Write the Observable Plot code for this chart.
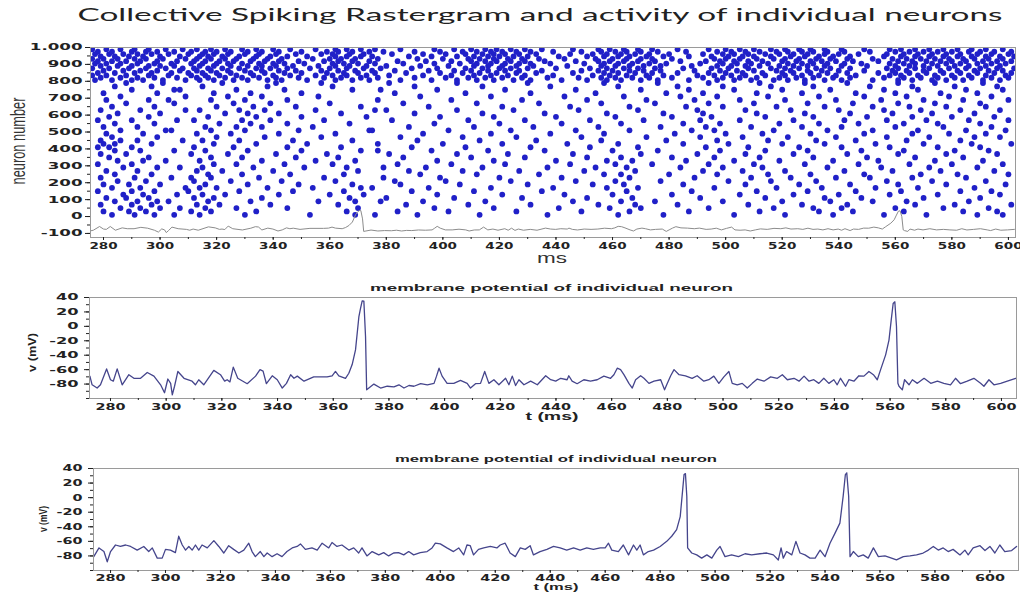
<!DOCTYPE html>
<html><head><meta charset="utf-8">
<script src="https://cdn.jsdelivr.net/npm/d3@7"></script>
<script src="https://cdn.jsdelivr.net/npm/@observablehq/plot@0.6"></script>
<style>
body{margin:0;background:#fff;}
#wrap{position:relative;width:1020px;height:592px;overflow:hidden;background:#fff;}
#wrap > svg{position:absolute;left:0;}
</style></head><body><div id="wrap"></div>
<script>
// ---------- DATA ----------
const titleText = "Collective Spiking Rastergram and activity  of individual neurons";
const panelTitle = "membrane potential of individual neuron";
const rasterYTicks = [-100,0,100,200,300,400,500,600,700,800,900,1000];
const rasterYLabels = ["-100","0","100","200","300","400","500","600","700","800","900","1.000"];
const timeTicks = [280,300,320,340,360,380,400,420,440,460,480,500,520,540,560,580,600];
const vTicks = [-80,-60,-40,-20,0,20,40];

// excitatory neurons (sparse), one row of spike times per neuron group
const excitRows = [10,30,50,70,90,110,130,150,170,190,210,230,250,270,290,310,330,350,370,390,410,430,450,470,490,510,530,550,570,590,610,630,650,670,690,710,730,750,770,790];
const excitTimes = [
[283,291,298,314,330,353,369,391,413,437,462,478,503,521,538,556,571,589,598,305,376],
[280,289,295,311,318,334,366,384,402,426,449,466,487,512,533,545,563,584,596],
[286,293,300,316,327,345,370,397,418,441,459,470,494,517,531,541,560,577,593,307],
[279,290,297,313,321,339,363,387,409,431,455,468,483,508,527,543,567,581,601],
[284,292,299,317,332,356,369,393,415,446,463,475,499,520,537,552,564,586,303,378],
[281,288,296,312,319,336,367,380,404,428,451,467,491,514,535,548,570,590],
[287,294,315,323,342,360,372,398,421,443,460,481,505,524,540,558,575,597,306],
[278,290,298,310,328,347,365,389,411,435,465,488,511,529,546,562,583,594],
[283,293,314,320,338,354,371,395,417,439,458,469,496,518,534,553,568,588,309,375],
[280,289,300,316,331,349,368,385,406,430,453,464,485,507,526,544,561,578,599],
[285,295,312,325,343,362,383,401,424,447,461,477,501,516,532,557,573,592],
[279,291,311,318,335,358,379,399,420,442,466,489,509,523,539,551,566,585,304],
[284,297,317,329,346,365,392,412,434,457,463,480,497,515,530,549,569,582,600],
[281,292,313,322,340,370,388,407,427,450,468,492,506,521,542,559,576,595],
[287,299,315,333,351,366,394,414,437,454,465,484,499,513,536,555,572,589,307,379],
[278,290,319,327,344,361,384,403,422,445,461,474,494,510,528,547,565,580,598],
[285,294,314,336,355,369,398,418,440,458,467,486,503,519,538,554,574,591,302],
[282,296,318,329,348,363,386,410,429,451,463,481,496,512,531,550,567,584],
[279,288,311,324,341,359,381,405,423,446,470,490,507,524,543,561,578,596],
[284,293,316,331,350,371,396,416,436,460,476,498,514,529,548,563,581,593,305,377],
[278,282,290,312,326,345,364,389,408,431,452,469,493,508,526,541,558,575,590],
[280,284,297,319,334,352,377,400,421,444,462,485,501,520,535,553,570,587,601],
[279,286,292,315,328,347,368,391,413,433,456,479,497,515,532,546,564,583,308],
[283,299,320,337,357,385,407,426,449,472,491,506,522,539,557,572,588,597],
[281,294,313,325,342,362,393,417,438,457,482,500,513,530,549,566,579,592],
[286,302,318,330,349,375,402,424,447,466,488,496,517,536,552,568,585,599,304,374],
[280,292,316,327,336,354,388,411,432,455,477,493,509,527,541,560,577,594],
[284,298,321,332,345,367,397,420,442,463,485,498,519,533,547,563,575,590],
[278,290,312,329,339,358,382,409,429,452,471,491,505,524,542,557,571,586,600,306],
[282,296,317,334,350,373,399,418,440,461,481,495,514,531,550,566,580,595],
[285,300,323,331,342,364,390,414,436,458,478,492,511,528,544,559,573,588],
[279,293,314,328,337,355,380,405,425,448,469,490,507,523,540,556,569,583,597,309,376],
[283,298,320,333,348,371,395,421,445,466,486,499,518,535,552,565,578,592],
[288,305,326,339,360,386,412,434,456,475,494,510,529,545,561,574,590],
[281,296,318,330,345,377,403,428,451,472,489,505,521,539,555,570,584,600,303],
[286,309,324,336,356,392,417,443,464,484,497,515,533,549,564,579,594],
[280,299,319,332,350,383,408,431,454,479,492,511,527,546,560,576,589],
[290,305,327,344,368,398,422,447,470,487,503,520,537,556,568,585,598,307,378],
[284,297,315,338,361,390,414,438,462,483,499,516,531,551,566,581,596],
[288,301,322,341,357,381,405,430,457,476,494,512,528,543,561,574,591]
];

// inhibitory neurons (dense band 800-1000)
const inhibRows = [807,821,835,849,863,877,891,905,919,933,947,961,975,989];
const inhibTimes = [
[277,283,290,294,301,309,314,319,326,331,338,343,352,362,368,374,385,396,405,412,418,425,431,442,451,458,463,470,476,487,497,503,509,517,522,528,535,541,552,561,566,573,578,584,591,597],
[279,286,292,298,306,313,317,323,329,335,341,349,358,364,371,377,390,401,409,415,421,428,437,448,456,461,467,473,481,492,499,505,511,519,525,531,538,544,556,563,569,575,581,587,594,600],
[276,281,288,296,303,311,316,321,327,333,340,346,355,361,366,373,381,393,403,411,417,423,429,439,453,459,465,472,478,490,496,502,507,514,521,527,533,539,546,558,562,568,574,580,586,592,599],
[278,284,291,297,304,310,315,320,325,332,337,344,350,359,365,370,376,387,399,407,413,419,426,433,446,457,462,468,474,483,494,500,506,513,520,524,530,536,543,554,560,565,571,577,583,589,595,601],
[280,287,293,299,307,313,318,324,330,336,342,348,357,363,369,375,383,395,404,410,416,422,427,435,449,455,460,466,471,477,489,498,504,510,518,523,529,534,540,549,559,564,570,576,582,588,593,598],
[276,282,289,295,302,308,312,317,322,328,334,339,345,353,360,366,372,378,389,398,408,414,420,424,430,440,452,458,464,469,475,485,495,501,508,516,521,526,532,537,544,557,561,567,572,579,585,590,596,602],
[279,285,290,296,300,305,314,319,325,331,336,341,347,356,362,367,373,380,392,402,411,416,421,426,432,444,456,461,466,471,477,488,497,502,507,512,519,524,529,535,541,550,560,565,570,575,581,586,592,597],
[277,281,286,292,298,304,311,315,320,324,329,335,340,344,351,361,365,370,376,386,397,406,412,417,422,427,431,438,450,457,462,467,473,479,491,499,504,509,515,522,527,531,536,542,548,558,563,567,573,578,583,589,594,599],
[278,283,288,293,299,306,312,316,321,326,332,337,342,349,358,363,368,374,384,394,403,410,415,419,424,429,436,447,455,459,464,469,475,484,493,498,503,508,513,520,525,530,534,539,545,554,561,566,571,576,580,585,591,596,601],
[276,280,285,291,295,301,309,313,318,323,327,333,338,343,354,360,364,369,377,391,400,409,413,418,423,428,434,443,454,460,465,470,474,481,496,500,505,511,517,521,526,532,537,543,552,559,564,569,574,579,584,588,593,598],
[279,284,289,294,300,307,314,317,322,328,334,339,345,352,362,366,371,375,388,396,405,411,416,420,425,430,441,451,457,462,466,472,478,487,495,501,506,510,516,523,528,533,538,544,556,562,567,572,577,582,587,592,597,602],
[277,282,287,292,297,303,310,315,319,324,330,335,341,348,357,361,367,372,382,393,401,408,414,418,422,427,433,445,453,458,463,468,473,480,492,499,503,508,514,519,524,529,535,540,547,557,563,568,573,578,583,589,594,600],
[278,283,290,295,299,305,311,316,320,325,331,336,342,350,359,363,368,374,379,390,399,407,412,417,421,426,431,439,449,456,461,465,470,476,486,497,502,507,512,518,522,527,531,536,542,551,560,565,570,575,580,586,590,595,601],
[276,281,286,291,296,302,308,313,318,323,329,334,340,346,355,362,366,371,376,385,397,404,410,415,419,424,429,435,446,455,459,464,469,474,483,494,500,505,510,516,521,526,530,535,541,549,558,562,567,572,577,582,587,592,598]
];

// membrane potential, neuron A (middle panel, also grey trace in raster)
const vmAT = [272.6,273.4,275.2,276.4,278.6,280.0,281.0,282.4,284.2,286.6,288.4,290.8,293.2,295.6,298.0,299.4,300.6,301.6,302.2,303.0,304.2,306.4,309.3,310.5,311.7,313.5,317.1,319.5,321.0,321.9,322.9,324.1,325.7,329.1,332.1,333.7,334.8,336.0,338.1,339.9,341.7,343.2,344.7,345.9,347.1,349.5,353.0,357.8,359.6,360.8,362.0,364.4,365.6,366.8,368.0,369.2,369.8,370.4,371.0,371.6,372.0,372.8,374.6,377.0,379.4,381.8,383.6,385.4,387.2,389.0,391.4,393.8,396.2,397.1,398.0,399.1,400.9,403.3,405.7,408.1,409.3,411.1,412.9,414.4,415.9,417.7,419.5,421.9,423.1,424.3,425.5,426.7,428.5,430.9,433.3,436.3,438.1,439.9,441.7,444.0,444.6,445.8,447.6,450.0,452.4,454.8,457.2,459.6,460.8,462.0,463.2,464.4,466.2,467.4,468.6,470.4,471.6,473.4,475.2,477.6,479.0,480.0,481.2,482.4,484.2,486.5,488.9,490.7,493.1,494.9,496.7,498.5,500.3,502.1,503.3,505.1,506.9,508.7,510.5,512.3,514.7,517.1,519.5,521.3,523.1,525.5,527.3,529.1,530.9,532.6,534.4,536.2,538.0,539.8,541.0,542.2,544.0,545.2,547.0,548.8,550.6,552.4,554.0,555.4,556.6,558.4,559.6,560.4,561.1,561.7,562.3,562.8,563.2,564.4,565.2,566.8,568.0,569.8,572.2,574.6,577.0,579.3,581.7,583.5,585.3,587.7,590.1,592.5,593.7,595.5,597.3,599.7,602.1,605.1];
const vmAV = [-69,-81,-85.5,-81,-59,-74,-76,-59,-81,-67,-72,-72,-64,-69,-81,-92,-73,-79,-95,-83,-62.5,-72,-76,-81,-74,-81,-61,-67,-76,-74,-77,-56.5,-72,-79.5,-69,-60,-62,-79.5,-68.5,-74,-85.5,-79,-67,-72,-69,-76,-70,-70,-68.5,-62.5,-68.5,-72,-65,-53,-32.6,13,25,35.4,35,-14,-88,-85.5,-80,-85.5,-83,-84,-81,-85.5,-82,-83,-79.5,-81,-79,-69,-58,-69,-79,-79,-75,-79,-85.5,-79.5,-79,-62.5,-79,-74,-81,-72,-81,-69,-82,-74,-81,-76,-81,-68.5,-74,-76,-72,-74,-68.5,-76,-79.5,-74,-76,-74,-69,-72,-67,-58,-60,-67,-79,-85.5,-74,-68.5,-72,-79,-76,-74,-88,-79,-68.5,-60,-67,-68.5,-72,-68.5,-76,-74,-69,-79,-70,-62.5,-79,-81,-79,-85.5,-79,-73,-76,-70,-72,-67,-74,-72,-76,-69,-76,-74,-79,-72,-79,-74,-81,-72,-83,-74,-76,-68.5,-69,-62.5,-67,-74,-60,-39.5,-19,8.7,31.7,34,-0.5,-79,-83,-88,-74,-81,-74,-79,-72,-79,-76,-79,-81,-72,-79.5,-76,-72,-79,-83,-74,-81,-79,-76,-72];

// membrane potential, neuron B (bottom panel)
const vmBT = [273.9,275.8,277.6,278.8,280.0,281.8,283.6,285.5,287.3,289.7,292.1,293.9,295.2,297.0,298.8,300.0,301.8,303.6,304.8,306.1,307.3,308.5,309.7,310.9,312.1,313.3,315.2,317.6,319.4,321.2,323.0,324.8,326.7,328.5,330.3,331.5,332.7,334.5,335.8,337.0,338.8,340.6,342.4,344.2,346.1,347.9,349.1,350.9,353.3,355.2,357.0,359.4,360.6,362.4,364.2,366.7,368.5,370.3,371.5,373.3,375.2,377.6,379.4,381.2,383.0,384.8,386.7,388.5,390.3,392.7,395.2,397.0,398.2,400.0,402.4,404.8,406.7,408.5,409.7,410.9,412.1,413.9,415.8,418.2,420.6,421.8,423.6,425.4,427.3,429.1,430.9,432.7,433.9,436.3,438.8,441.2,443.6,446.0,448.5,450.9,453.3,455.7,458.2,460.0,461.2,462.4,464.8,466.6,468.5,470.3,471.5,472.7,473.9,475.7,477.6,480.0,482.4,484.2,486.0,487.3,488.2,488.7,489.2,489.7,490.0,491.5,493.3,495.1,497.0,498.8,500.6,501.8,503.6,506.0,508.5,510.9,513.3,516.3,518.8,521.2,523.0,524.0,524.8,526.0,527.9,529.4,530.9,532.7,534.5,536.4,538.2,540.0,541.8,543.6,545.4,546.6,547.4,547.9,548.6,549.1,550.3,552.1,553.9,555.7,557.6,559.4,561.8,564.2,566.0,568.5,570.9,573.3,575.7,577.6,579.4,581.2,583.0,584.8,586.6,589.1,590.9,592.1,593.9,596.4,598.2,600.0,601.8,603.6,605.4,607.9,609.7];
const vmBV = [-81,-69,-74,-88,-74,-65,-67,-65,-67,-72,-67,-74,-69,-83,-83,-71,-72,-75.5,-53,-65,-72,-67,-72,-65,-72,-65,-69,-59,-67,-76,-66,-71,-76,-72,-62.5,-74,-81,-74,-81,-76,-81,-77,-81,-74,-69,-67,-63.5,-71,-69,-72,-62.5,-69,-61.6,-67,-65,-72,-69,-76,-69,-80,-74,-78.6,-75.5,-80,-76,-75.5,-78.6,-74,-78.6,-75.5,-74,-69,-62.5,-63.5,-69,-74,-69,-78.6,-65,-66,-78.6,-71,-69,-67,-69,-65,-62.5,-76,-81,-69,-71,-66,-78.6,-74,-71,-67,-69,-72,-69,-72,-69,-71,-69,-69,-62.5,-72,-74,-65,-78.6,-65,-72,-65,-78.6,-74,-72,-67,-60,-53,-44,-26,11,31.7,33,2,-69,-76,-78.6,-83,-78.6,-83,-72,-67,-81,-78.6,-81,-77,-78.6,-77,-76,-78.6,-85.5,-69,-83,-74,-78.6,-60,-76,-78.6,-83,-83,-72,-81,-62.5,-49,-35,2,31.7,34,2,-81,-74,-81,-78.6,-83,-69,-81,-80,-83,-85.5,-81,-80,-78.6,-76,-72,-67,-72,-69,-74,-71,-78.6,-72,-78.6,-69,-66,-72.6,-67,-76,-65,-74,-72.6,-67];

// ---------- BUILD ----------
const raster = [];
excitRows.forEach((n,i)=>excitTimes[i].forEach(t=>raster.push({t,n})));
inhibRows.forEach((n,i)=>inhibTimes[i].forEach(t=>raster.push({t,n})));
const traceA = vmAT.map((t,i)=>({t, v:vmAV[i]}));
const traceB = vmBT.map((t,i)=>({t, v:vmBV[i]}));

const wrap = document.getElementById("wrap");
const tickStyle = {fontFamily:"DejaVu Sans", fontSize:"9px", fontWeight:"bold", color:"#222", background:"transparent", overflow:"visible"};
const fmt = d => String(d);
const range = (a,b,s)=>{const r=[];for(let v=a;v<=b+1e-9;v+=s)r.push(v);return r;};

function place(svg, top){ svg.style.top = top+"px"; wrap.appendChild(svg); return svg; }
function stretch(svg, sel, f){
  svg.querySelectorAll(sel).forEach(t=>{
    if(!t.textContent) return;
    const L = t.getComputedTextLength();
    t.setAttribute("textLength", (L*f).toFixed(1));
    t.setAttribute("lengthAdjust","spacingAndGlyphs");
  });
}

// top: raster
const p1 = Plot.plot({
  width:1020, height:225, marginTop:7, marginBottom:28, marginLeft:90, marginRight:5,
  x:{domain:[275.4,602.5], label:null},
  y:{domain:[-124,1000], label:null},
  style:tickStyle,
  marks:[
    Plot.dot(raster, {x:"t", y:"n", r:2.9, fill:"#2020c8", clip:"frame"}),
    Plot.line(traceA, {x:"t", y:"v", stroke:"#8c8c8c", strokeWidth:1, clip:"frame"}),
    Plot.frame({stroke:"#9a9a9a"}),
    Plot.axisY({ticks:rasterYTicks, tickSize:5, tickPadding:3, tickFormat:(d)=>rasterYLabels[rasterYTicks.indexOf(d)], label:null}),
    Plot.axisY({ticks:range(-100,1000,50), tickSize:3, tickFormat:()=>"", label:null}),
    Plot.axisX({ticks:timeTicks, tickSize:3, tickPadding:2, tickFormat:fmt, label:null}),
    Plot.axisX({ticks:range(280,600,10), tickSize:2, tickFormat:()=>"", label:null})
  ]
});
place(p1, 40);
stretch(p1, 'g[aria-label="y-axis tick label"] text', 1.85);
stretch(p1, 'g[aria-label="x-axis tick label"] text', 1.5);

function vPanel(data, xdom, top, height, mt, mb, ml, mr, fy, fx, ypad, xpad){
  const p = Plot.plot({
    width:1020, height, marginTop:mt, marginBottom:mb, marginLeft:ml, marginRight:mr,
    x:{domain:xdom, label:null}, y:{domain:[-100,40], label:null},
    style:tickStyle,
    marks:[
      Plot.line(data, {x:"t", y:"v", stroke:"#45458c", strokeWidth:1.3, clip:"frame"}),
      Plot.frame({stroke:"#9a9a9a"}),
      Plot.axisY({ticks:vTicks, tickSize:5, tickPadding:ypad, tickFormat:fmt, label:null}),
      Plot.axisY({ticks:range(-100,40,10), tickSize:3, tickFormat:()=>"", label:null}),
      Plot.axisX({ticks:timeTicks, tickSize:3, tickPadding:xpad, tickFormat:fmt, label:null}),
      Plot.axisX({ticks:range(280,600,10), tickSize:2, tickFormat:()=>"", label:null})
    ]
  });
  place(p, top);
  stretch(p, 'g[aria-label="y-axis tick label"] text', fy);
  stretch(p, 'g[aria-label="x-axis tick label"] text', fx);
  return p;
}
vPanel(traceA, [272.46,605.4], 280, 145, 17, 27, 89, 4, 1.8, 1.6, 6, 2);
vPanel(traceB, [273.8,610.4], 450, 142, 18, 22, 93, 2, 1.6, 1.6, 6, 1);

// overlay text
const ov = d3.select(wrap).append("svg").attr("width",1020).attr("height",592)
  .style("top","0px").style("pointer-events","none");
function txt(x,y,s,opt){
  const t = ov.append("text").text(s)
    .attr("text-anchor","middle")
    .attr("font-family", opt.family||"Liberation Sans")
    .attr("font-size", opt.size)
    .attr("font-weight", opt.weight||"normal")
    .attr("fill", opt.fill||"#222")
    .attr("textLength", opt.len).attr("lengthAdjust","spacingAndGlyphs");
  if(opt.rot) t.attr("transform",`translate(${x},${y}) rotate(-90)`);
  else t.attr("x",x).attr("y",y);
  return t;
}
txt(540, 21, titleText, {family:"Lato", size:17, len:925, fill:"#222"});
txt(25, 141, "neuron number", {size:20, len:87, rot:true, fill:"#333"});
txt(552, 263, "ms", {size:14, len:30, fill:"#333"});
txt(551.5, 291, panelTitle, {size:9.5, weight:"bold", len:363});
txt(36, 352.5, "v (mV)", {size:10, weight:"bold", len:39, rot:true});
txt(552, 420, "t (ms)", {size:10.5, weight:"bold", len:53});
txt(556, 462, panelTitle, {size:9, weight:"bold", len:322});
txt(47, 519, "v (mV)", {size:10, weight:"bold", len:26, rot:true});
txt(556, 590, "t (ms)", {size:9, weight:"bold", len:45});
</script>
</body></html>
